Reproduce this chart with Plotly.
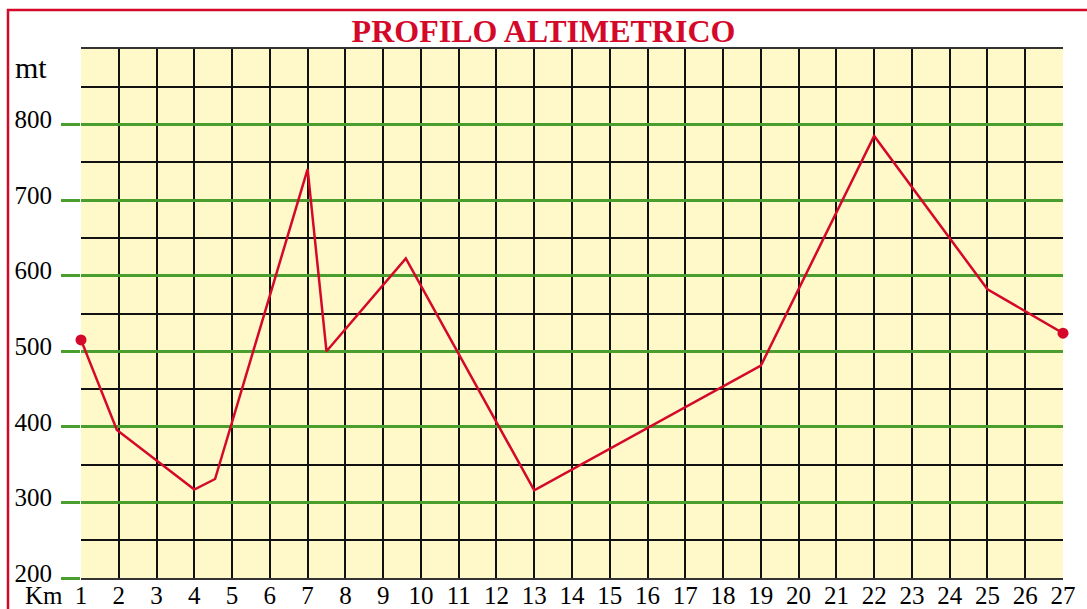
import plotly.graph_objects as go

km = [1, 1.95, 4, 4.55, 7, 7.5, 9.6, 13, 19, 22, 25, 27]
alt = [515, 396, 317, 331, 741, 500, 623, 316, 481, 785, 582, 524]

x_ticks = list(range(1, 28))
x_labels = [str(v) for v in x_ticks]
y_ticks = [200, 300, 400, 500, 600, 700, 800]
y_labels = [str(v) for v in y_ticks]

RED = "#D4092A"
GREEN = "#4A9E2E"
FONT = "Liberation Serif"

fig = go.Figure()
fig.add_trace(go.Scatter(
    x=km, y=alt, mode="lines",
    line=dict(color=RED, width=2.5),
    hoverinfo="x+y", showlegend=False,
))
fig.add_trace(go.Scatter(
    x=[km[0], km[-1]], y=[alt[0], alt[-1]], mode="markers",
    marker=dict(color=RED, size=11),
    cliponaxis=False, showlegend=False,
))

fig.update_layout(
    width=1087, height=609,
    margin=dict(l=81, r=24, t=49, b=31),
    paper_bgcolor="white",
    plot_bgcolor="#FFF8C8",
    font=dict(family=FONT, size=25, color="black"),
    title=dict(text="<b>PROFILO ALTIMETRICO</b>", x=0.5, xanchor="center",
               y=1 - 31 / 609, yanchor="middle",
               font=dict(family=FONT, size=32, color=RED)),
    xaxis=dict(
        range=[1, 27], tickvals=x_ticks, ticktext=x_labels,
        showgrid=True, gridcolor="#111111", gridwidth=1.5,
        zeroline=False, showline=True, linecolor="#333333", linewidth=1.5,
        mirror=True, ticks="", ticklabelstandoff=-6, automargin=False,
        tickfont=dict(family=FONT, size=25, color="black"),
    ),
    yaxis=dict(
        range=[200, 900], tickvals=y_ticks, ticktext=y_labels,
        showgrid=True, gridcolor=GREEN, gridwidth=3,
        zeroline=False, showline=False, automargin=False,
        ticks="outside", ticklen=19, tickwidth=3, tickcolor=GREEN,
        ticklabelstandoff=4, ticklabelshift=-5,
        tickfont=dict(family=FONT, size=25, color="black"),
        minor=dict(dtick=50, tick0=200, showgrid=True, gridcolor="#111111",
                   gridwidth=1.5, ticks=""),
    ),
    annotations=[
        dict(text="mt", xref="paper", yref="paper",
             x=(31 - 81) / 982, y=(578 - 67) / 529,
             xanchor="center", yanchor="middle", showarrow=False,
             font=dict(family=FONT, size=30, color="black")),
        dict(text="Km", xref="paper", yref="paper",
             x=(44 - 81) / 982, y=(578 - 595) / 529,
             xanchor="center", yanchor="middle", showarrow=False,
             font=dict(family=FONT, size=25, color="black")),
    ],
    shapes=[
        dict(type="rect", xref="paper", yref="paper",
             x0=(8 - 81) / 982, x1=1.2, y0=-0.3, y1=1 + (49 - 10) / 529,
             line=dict(color=RED, width=2.5), fillcolor="rgba(0,0,0,0)",
             layer="below"),
    ],
)

fig.write_html(
    "out.html",
    config={"displayModeBar": False},
    post_script="document.body.style.margin='0';document.body.style.overflow='hidden';",
)
